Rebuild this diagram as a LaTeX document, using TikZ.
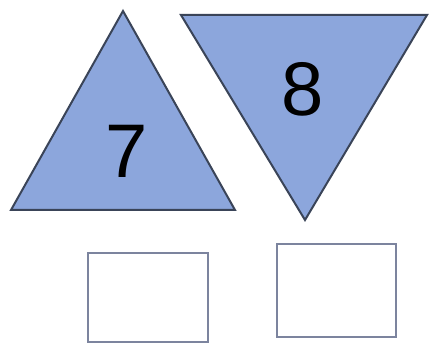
\documentclass[tikz,border=0pt]{standalone}
\usepackage{fontspec}
\setmainfont{Liberation Sans}
\definecolor{triblue}{RGB}{140,166,220}
\definecolor{triedge}{RGB}{58,68,88}
\definecolor{boxedge}{RGB}{124,132,158}
\tikzset{
  tri/.style={fill=triblue,draw=triedge,line width=2pt,line join=miter},
  digit/.style={font=\fontsize{76}{76}\selectfont,inner sep=0pt},
  answer/.style={draw=boxedge,line width=2.6pt,fill=white,inner sep=0pt}
}
\begin{document}
\begin{tikzpicture}[x=1pt,y=-1pt]
  \useasboundingbox (0,0) rectangle (430,344);
  \fill[white] (0,0) rectangle (430,344);
  \draw[tri] (123,11) -- (235,210) -- (11,210) -- cycle;
  \draw[tri] (181,15) -- (427,15) -- (305,220) -- cycle;
  \node[digit] (seven) at (127,151) {7};
  \node[digit] (eight) at (303,89) {8};
  \node[answer,minimum width=120pt,minimum height=89pt] (boxa) at (148,297.5) {};
  \node[answer,minimum width=119pt,minimum height=93pt] (boxb) at (336.5,290.5) {};
\end{tikzpicture}
\end{document}
